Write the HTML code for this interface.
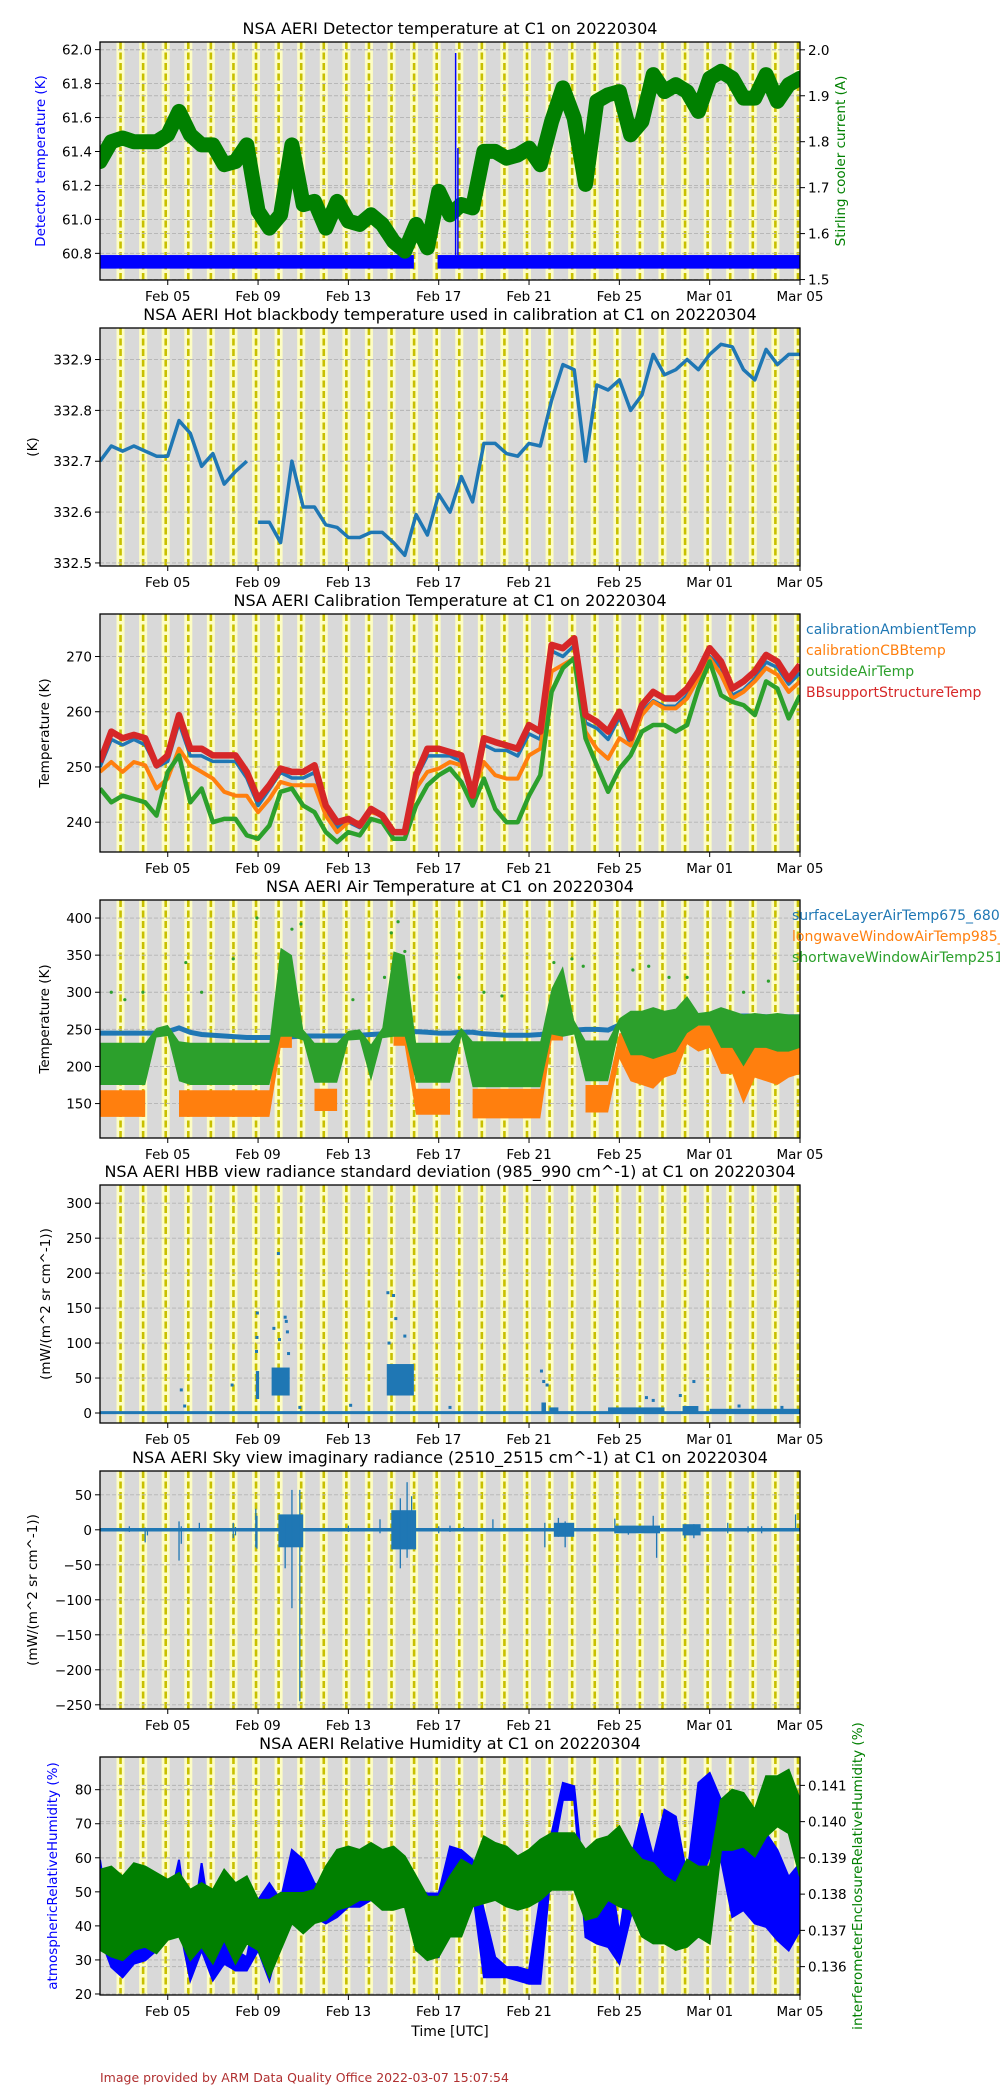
<!DOCTYPE html>
<html><head><meta charset="utf-8"><title>NSA AERI C1 20220304</title>
<style>
html,body{margin:0;padding:0;background:#fff;}
body{width:1000px;height:2100px;overflow:hidden;}
svg{display:block;font-family:"DejaVu Sans","Liberation Sans",sans-serif;}
</style></head>
<body>
<svg id="fig" width="1000" height="2100" viewBox="0 0 1000 2100" xmlns="http://www.w3.org/2000/svg">
<rect x="0" y="0" width="1000" height="2100" fill="#ffffff"/>
<text x="450" y="2036" font-size="14" text-anchor="middle" fill="#000">Time [UTC]</text>
<text x="100" y="2082" font-size="12.5" fill="#b03030">Image provided by ARM Data Quality Office 2022-03-07 15:07:54</text>
</svg>
<script>
// ---------- shared x-axis data (days since Feb 02 00:00 UTC) ----------
const xTickDays = [3,7,11,15,19,23,27,31];
const xTickLabels = ["Feb 05","Feb 09","Feb 13","Feb 17","Feb 21","Feb 25","Mar 01","Mar 05"];
const halfDays = [0,0.5,1,1.5,2,2.5,3,3.5,4,4.5,5,5.5,6,6.5,7,7.5,8,8.5,9,9.5,10,10.5,11,11.5,12,12.5,13,13.5,14,14.5,15,15.5,16,16.5,17,17.5,18,18.5,19,19.5,20,20.5,21,21.5,22,22.5,23,23.5,24,24.5,25,25.5,26,26.5,27,27.5,28,28.5,29,29.5,30,30.5,31];
const dayMarkerDays = [0.91,1.91,2.91,3.91,4.91,5.91,6.91,7.91,8.91,9.91,10.91,11.91,12.91,13.91,14.91,15.91,16.91,17.91,18.91,19.91,20.91,21.91,22.91,23.91,24.91,25.91,26.91,27.91,28.91,29.91,30.91];

// ---------- panel 1: detector temperature / cooler current ----------
const p1LeftTicks = [60.8,61.0,61.2,61.4,61.6,61.8,62.0];
const p1LeftLabels = ["60.8","61.0","61.2","61.4","61.6","61.8","62.0"];
const p1RightTicks = [1.5,1.6,1.7,1.8,1.9,2.0];
const p1RightLabels = ["1.5","1.6","1.7","1.8","1.9","2.0"];
const detSegStart = [0,14.95];
const detSegEnd = [13.9,31];
const detSegLo = [60.71,60.71];
const detSegHi = [60.79,60.79];
const detSpikeDay = [15.75,15.85];
const detSpikeVal = [61.98,61.42];
const coolerCurrent = [1.757,1.80,1.808,1.80,1.80,1.80,1.815,1.866,1.815,1.793,1.793,1.75,1.757,1.793,1.649,1.612,1.641,1.793,1.663,1.67,1.612,1.67,1.627,1.62,1.641,1.62,1.583,1.562,1.62,1.569,1.692,1.641,1.663,1.656,1.779,1.779,1.764,1.771,1.786,1.75,1.844,1.917,1.851,1.707,1.888,1.902,1.909,1.815,1.844,1.946,1.909,1.924,1.909,1.866,1.938,1.953,1.938,1.895,1.895,1.946,1.888,1.924,1.938];

// ---------- panel 2: hot blackbody ----------
const p2Ticks = [332.5,332.6,332.7,332.8,332.9];
const p2Labels = ["332.5","332.6","332.7","332.8","332.9"];
const hbbBreaks = [6.8];
const hbbTemp = [332.70,332.73,332.72,332.73,332.72,332.71,332.71,332.78,332.755,332.69,332.715,332.655,332.68,332.70,332.58,332.58,332.54,332.70,332.61,332.61,332.575,332.57,332.55,332.55,332.56,332.56,332.54,332.515,332.595,332.555,332.635,332.60,332.67,332.62,332.735,332.735,332.715,332.71,332.735,332.73,332.82,332.89,332.88,332.70,332.85,332.84,332.86,332.80,332.83,332.91,332.87,332.88,332.90,332.88,332.91,332.93,332.925,332.88,332.86,332.92,332.89,332.91,332.91];

// ---------- panel 3: calibration temperatures ----------
const p3Ticks = [240,250,260,270];
const p3Labels = ["240","250","260","270"];
const calAmbient = [250,255,254,255,254,250,251,258,252,252,251,251,251,248,243,246,249,248,248,249,242,239,240,239,242,241,238,238,248,252,252,252,251,244,254,253,253,252,256,255,271,270,272,258,257,255,259,254,260,262,261,261,263,266,270,268,263,264,266,269,268,265,267];
const calCBB = [249.1,250.9,249.1,250.9,250.3,246.1,247.9,253.3,250.3,249.1,247.9,245.5,244.8,244.8,241.8,244.2,247.3,246.7,246.7,246.7,241.2,238.2,240,240,241.8,241.2,238.2,238.2,246.1,249.1,249.7,250.9,250.3,245.5,250.9,248.5,247.9,247.9,252.1,253.3,267.3,268.5,269.7,256.4,253.3,251.5,255.2,253.9,259.4,261.8,260.6,260.6,262.4,266.1,269.7,266.7,262.4,263.6,265.5,267.9,266.7,263.6,265.5];
const outsideAir = [246.1,243.6,244.8,244.2,243.6,241.2,249.1,252.1,243.6,246.1,240,240.6,240.6,237.6,237,239.4,245.5,246.1,243,241.8,238.2,236.4,238.2,237.6,240.6,240,237,237,243,246.7,248.5,249.7,247.3,243,247.9,242.4,240,240,244.8,248.5,263.6,267.9,269.7,255.2,250.3,245.5,249.7,252.1,256.4,257.6,257.6,256.4,257.6,264.2,269.1,263,261.8,261.2,259.4,265.5,264.2,258.8,263];
const bbSupport = [250.9,256.4,255.2,255.8,255.2,250.3,252.1,259.4,253.3,253.3,252.1,252.1,252.1,249.1,244.2,246.7,249.7,249.1,249.1,250.3,243,240,240.6,239.4,242.4,241.2,238.2,238.2,248.5,253.3,253.3,252.7,252.1,244.8,255.2,254.5,253.9,253.3,257.6,256.4,272.1,271.5,273.3,259.4,258.2,256.4,260,255.2,261.2,263.6,262.4,262.4,264.2,267.3,271.5,269.1,264.2,265.5,267.3,270.3,269.1,265.9,268.5];

// ---------- panel 4: air temperatures ----------
const p4Ticks = [150,200,250,300,350,400];
const p4Labels = ["150","200","250","300","350","400"];
const surfaceAir = [245,245,245,245,245,245,247,252,246,243,242,241,240,239,239,239,240,240,241,241,241,241,241,242,243,244,245,246,247,246,245,245,246,246,244,243,242,242,242,243,245,248,249,250,250,249,256,259,260,261,262,263,264,265,266,268,268,268,268,267,267,267,267];
const swLo = [175,175,175,175,175,239,241,180,175,175,175,175,175,175,175,175,240,240,235,178,178,178,235,236,180,238,240,240,178,178,178,178,240,172,172,172,172,172,172,172,243,240,243,180,180,180,250,215,215,210,215,220,245,255,255,225,225,200,225,225,220,220,225];
const swHi = [232,232,232,232,232,252,256,234,232,232,232,232,232,232,232,232,360,350,250,232,232,232,248,250,230,252,355,350,232,232,232,232,252,234,234,234,234,234,234,234,305,335,262,235,235,235,265,275,275,280,275,278,295,272,274,280,275,270,272,270,272,270,270];
const lwLo = [132,132,132,132,132,null,null,132,132,132,132,132,132,132,132,132,225,225,null,140,140,140,null,null,135,null,228,228,135,135,135,135,null,130,130,130,130,130,130,130,235,235,null,138,138,138,210,180,175,170,185,190,230,220,225,190,190,150,185,180,175,185,190];
const lwHi = [168,168,168,168,168,null,null,168,168,168,168,168,168,168,168,168,280,275,null,170,170,170,null,null,170,null,280,270,170,170,170,170,null,170,170,170,170,170,170,170,265,270,null,175,175,175,245,245,245,245,245,245,260,255,255,250,250,235,250,250,250,250,250];
const swOutDay = [1.1,1.9,3.8,4.5,5.9,6.95,8.9,12.6,12.9,13.5,15.9,17.0,20.1,20.9,21.4,23.6,24.3,25.2,26.0,28.5,29.6,8.5,13.2,0.5,11.2,17.8];
const swOutVal = [290,300,340,300,345,400,392,320,380,355,320,300,340,345,335,330,335,320,320,300,315,385,395,300,290,295];

// ---------- panel 5: HBB radiance std dev ----------
const p5Ticks = [0,50,100,150,200,250,300];
const p5Labels = ["0","50","100","150","200","250","300"];
const hbbClusterStart = [6.9,7.6,12.7,19.55,19.9,22.5,25.8,27];
const hbbClusterEnd = [7.05,8.4,13.9,19.75,20.3,25,26.5,31];
const hbbClusterLo = [20,25,25,0,0,0,0,0];
const hbbClusterHi = [60,65,70,15,8,8,10,6];
const hbbOutDay = [6.97,6.95,6.93,7.9,8.2,8.25,7.7,8.3,7.95,8.35,12.75,13.0,13.1,12.8,13.5,3.6,3.75,5.85,8.85,11.1,19.55,19.65,19.8,24.2,24.5,26.3,25.7,15.5,28.3,30.2];
const hbbOutVal = [143,108,88,228,137,131,121,116,105,85,172,168,135,100,110,33,10,40,8,11,60,45,40,22,18,45,25,8,10,8];

// ---------- panel 6: sky imaginary radiance ----------
const p6Ticks = [-250,-200,-150,-100,-50,0,50];
const p6Labels = ["\u2212250","\u2212200","\u2212150","\u2212100","\u221250","0","50"];
const skySpikeDay = [1.3,2.0,2.1,3.5,3.6,4.4,5.9,6.0,6.9,6.95,8.2,8.5,8.85,11.0,12.4,13.3,13.6,13.8,15.0,15.5,16.1,17.4,19.7,20.3,20.6,20.9,22.8,23.4,24.5,24.65,25.9,26.3,27.8,28.7,29.3,30.8];
const skySpikeMax = [5,3,2,12,5,10,10,4,30,20,20,57,57,6,15,45,68,48,5,6,4,15,10,17,12,6,16,5,20,5,5,8,10,5,5,22];
const skySpikeMin = [-3,-18,-8,-44,-20,-2,-12,-8,-25,-27,-55,-112,-245,-3,-5,-55,-40,-25,-5,-3,-2,-1,-25,-10,-25,-5,-5,-7,-2,-40,-12,-12,-5,-4,-5,-2];
const skyClusterStart = [7.9,12.9,20.1,22.8,25.8];
const skyClusterEnd = [9.0,14.0,21.0,24.8,26.6];
const skyClusterLo = [-25,-28,-10,-5,-8];
const skyClusterHi = [22,28,10,6,8];

// ---------- panel 7: relative humidity ----------
const p7LeftTicks = [20,30,40,50,60,70,80];
const p7LeftLabels = ["20","30","40","50","60","70","80"];
const p7RightTicks = [0.136,0.137,0.138,0.139,0.140,0.141];
const p7RightLabels = ["0.136","0.137","0.138","0.139","0.140","0.141"];
const atmRhHi = [59.4,37.7,35.8,40.7,38.7,36.7,44.6,59.4,34.8,58.4,36.7,54.4,32.8,30.8,47.6,52.5,47.6,62.3,59.4,52.5,50.5,52.5,59.4,48.5,60.3,59.4,60.3,55.4,50.5,49.5,49.5,63.3,62.3,59.4,44.6,30.8,27.9,27.9,26.9,48.5,67.2,82,81,47.6,42.6,59.4,37.7,59.4,73.1,60.3,74.1,72.1,54.4,82,84.9,77,67.2,74.1,65.3,67.2,62.3,54.4,58.4];
const atmRhLo = [36.7,27.9,24.9,28.9,29.9,32.8,36.7,40.7,24,32.8,24,28.9,26.9,26.9,32.8,24,36.7,44.6,50.5,42.6,40.7,42.6,45.6,45.6,47.6,45.6,46.6,47.6,32.8,30.8,30.8,50.5,52.5,50.5,24.9,24.9,24.9,24,23,23,58.4,77,77,36.7,34.8,33.8,28.9,42.6,50.5,40.7,44.6,44.6,36.7,52.5,60.3,59.4,42.6,44.6,40.7,39.7,35.8,32.8,38.7];
const encRhHi = [0.13867,0.13876,0.13849,0.13885,0.13876,0.13858,0.1384,0.13858,0.13812,0.1383,0.13812,0.13867,0.1383,0.13849,0.13784,0.13784,0.13803,0.13803,0.13803,0.13812,0.13876,0.13922,0.13931,0.13922,0.13941,0.13922,0.13931,0.13904,0.13849,0.13793,0.13793,0.13849,0.13895,0.13876,0.13959,0.13941,0.13931,0.13904,0.13922,0.1395,0.13968,0.13968,0.13968,0.13922,0.1395,0.13959,0.13987,0.13931,0.13895,0.13885,0.13849,0.1383,0.13895,0.13876,0.13876,0.1406,0.14088,0.14079,0.14033,0.14125,0.14125,0.14143,0.1406];
const encRhLo = [0.13646,0.13628,0.13618,0.13646,0.13655,0.13637,0.13674,0.13683,0.13618,0.13655,0.13609,0.13674,0.13609,0.13664,0.13646,0.13572,0.13646,0.1372,0.13692,0.1372,0.13729,0.13757,0.13766,0.13784,0.13784,0.13757,0.13757,0.13766,0.13646,0.13618,0.13628,0.13683,0.13683,0.13766,0.13775,0.13784,0.13766,0.13757,0.13766,0.13784,0.13812,0.13812,0.13812,0.13729,0.13738,0.13784,0.13766,0.13757,0.13683,0.13664,0.13664,0.13646,0.13655,0.13683,0.13664,0.13922,0.13922,0.13931,0.13904,0.13959,0.13987,0.13968,0.13849];

// ================= drawing =================
const NS = "http://www.w3.org/2000/svg";
const svg = document.getElementById('fig');
const X0 = 100, X1 = 800, NDAYS = 31, PH = 238;
function xs(d){ return X0 + d*(X1-X0)/NDAYS; }
function mk(tag, attrs, parent){
  const e = document.createElementNS(NS, tag);
  for (const k in attrs) e.setAttribute(k, attrs[k]);
  (parent||svg).appendChild(e);
  return e;
}
function scaleY(top, lo, hi){ return v => top + PH - (v-lo)/(hi-lo)*PH; }

function makePanel(idx, top, title){
  const g = mk('g', {});
  
  
  const cp = mk('clipPath', {id:'clip'+idx}, g);
  mk('rect', {x:X0, y:top, width:X1-X0, height:PH}, cp);
  const bg = mk('rect', {x:X0, y:top, width:X1-X0, height:PH, fill:'#d9d9d9'}, g);
  
  
  const t = mk('text', {x:450, y:top-8, 'font-size':16, 'text-anchor':'middle', fill:'#000'}, g);
  t.textContent = title;
  
  
  const plot = mk('g', {'clip-path':'url(#clip'+idx+')'}, g);
  
  
  dayMarkerDays.forEach(d => {
    const x = xs(d);
    const band = mk('rect', {x:x-4, y:top, width:8, height:PH, fill:'#fdfdc4'}, plot);
    
    
  });
  dayMarkerDays.forEach(d => {
    const x = xs(d);
    const ln = mk('line', {x1:x, x2:x, y1:top, y2:top+PH, stroke:'#c8c000', 'stroke-width':2.6, 'stroke-dasharray':'7,3.5'}, plot);
    
    
  });
  xTickDays.forEach((d,i) => {
    const x = xs(d);
    const tk = mk('line', {x1:x, x2:x, y1:top+PH, y2:top+PH+5, stroke:'#000', 'stroke-width':1}, g);
    
    
    const lb = mk('text', {x:x, y:top+PH+21, 'font-size':13.5, 'text-anchor':'middle', fill:'#000'}, g);
    lb.textContent = xTickLabels[i];
    
    
  });
  return {g, plot, top};
}
function yAxis(P, ticks, labels, ys, side){
  ticks.forEach((v,i) => {
    const y = ys(v);
    const gl = mk('line', {x1:X0, x2:X1, y1:y, y2:y, stroke:'#b4b4b4', 'stroke-width':0.9, 'stroke-dasharray':'4,2'}, P.plot);
    
    
    const x = side==='left' ? X0 : X1;
    const tk = mk('line', {x1:x, x2: side==='left'? x-5 : x+5, y1:y, y2:y, stroke:'#000', 'stroke-width':1}, P.g);
    
    
    const lb = mk('text', {x: side==='left'? x-8 : x+8, y:y+5, 'font-size':13.5, 'text-anchor': side==='left'?'end':'start', fill:'#000'}, P.g);
    lb.textContent = labels[i];
    
    
  });
}
function yTitle(P, text, x, color, size){
  const cy = P.top + PH/2;
  const t = mk('text', {x:x, y:cy, 'font-size':size||13.5, 'text-anchor':'middle', fill:color, transform:'rotate(-90 '+x+' '+cy+')'}, P.g);
  t.textContent = text;
  
  
}
function frame(P){
  const f = mk('rect', {x:X0, y:P.top, width:X1-X0, height:PH, fill:'none', stroke:'#000', 'stroke-width':1.3}, P.g);
  
  
}
function linePath(ts, vals, ys, breaks){
  let d = '', pen = false;
  for (let i=0;i<ts.length;i++){
    const v = vals[i];
    if (v===null || v===undefined){ pen=false; continue; }
    if (breaks && i>0 && breaks.some(b => ts[i-1] < b && ts[i] >= b)) pen = false;
    d += (pen?'L':'M') + xs(ts[i]).toFixed(1) + ',' + ys(v).toFixed(1);
    pen = true;
  }
  return d;
}
function bandPath(ts, lo, hi, ys){
  let out = '', seg = [];
  const flush = () => {
    if (!seg.length) return;
    let d = '';
    seg.forEach((i,k) => { d += (k?'L':'M') + xs(ts[i]).toFixed(1) + ',' + ys(hi[i]).toFixed(1); });
    for (let k=seg.length-1;k>=0;k--){ const i=seg[k]; d += 'L' + xs(ts[i]).toFixed(1) + ',' + ys(lo[i]).toFixed(1); }
    out += d + 'Z'; seg = [];
  };
  for (let i=0;i<ts.length;i++){
    if (lo[i]===null || hi[i]===null) flush(); else seg.push(i);
  }
  flush();
  return out;
}

// ---------- Panel 1 ----------
{
  const P = makePanel(1, 42, 'NSA AERI Detector temperature at C1 on 20220304');
  const yl = scaleY(42, 60.643, 62.045), yr = scaleY(42, 1.499, 2.017);
  yAxis(P, p1LeftTicks, p1LeftLabels, yl, 'left');
  yAxis(P, p1RightTicks, p1RightLabels, yr, 'right');
  detSegStart.forEach((s,i) => {
    const r = mk('rect', {x:xs(s), y:yl(detSegHi[i]), width:xs(detSegEnd[i])-xs(s), height:yl(detSegLo[i])-yl(detSegHi[i]), fill:'#0000ff'}, P.plot);
    
    
  });
  const gp = mk('path', {d:linePath(halfDays, coolerCurrent, yr), fill:'none', stroke:'#008000', 'stroke-width':15, 'stroke-linejoin':'round', 'stroke-linecap':'round'}, P.plot);
  
  
  detSpikeDay.forEach((d,i) => {
    const s = mk('line', {x1:xs(d), x2:xs(d), y1:yl(detSegHi[1]), y2:yl(detSpikeVal[i]), stroke:'#0000ff', 'stroke-width':1.5}, P.plot);
    
    
  });
  yTitle(P, 'Detector temperature (K)', 45, '#0000ff');
  yTitle(P, 'Stirling cooler current (A)', 845, '#008000');
  frame(P);
}
// ---------- Panel 2 ----------
{
  const P = makePanel(2, 328, 'NSA AERI Hot blackbody temperature used in calibration at C1 on 20220304');
  const y = scaleY(328, 332.494, 332.962);
  yAxis(P, p2Ticks, p2Labels, y, 'left');
  const l = mk('path', {d:linePath(halfDays, hbbTemp, y, hbbBreaks), fill:'none', stroke:'#1f77b4', 'stroke-width':3.5, 'stroke-linejoin':'round'}, P.plot);
  
  
  yTitle(P, '(K)', 37, '#000');
  frame(P);
}
// ---------- Panel 3 ----------
{
  const P = makePanel(3, 614, 'NSA AERI Calibration Temperature at C1 on 20220304');
  const y = scaleY(614, 234.6, 277.7);
  yAxis(P, p3Ticks, p3Labels, y, 'left');
  const series = [[calAmbient,'#1f77b4',3.5,'calibration-ambient-temp-line'],[calCBB,'#ff7f0e',4,'calibration-cbb-temp-line'],[outsideAir,'#2ca02c',4.5,'outside-air-temp-line'],[bbSupport,'#d62728',6.5,'bb-support-structure-temp-line']];
  series.forEach(s => {
    const l = mk('path', {d:linePath(halfDays, s[0], y), fill:'none', stroke:s[1], 'stroke-width':s[2], 'stroke-linejoin':'round'}, P.plot);
    
    
  });
  yTitle(P, 'Temperature (K)', 49, '#000');
  frame(P);
  const leg = [['calibrationAmbientTemp','#1f77b4'],['calibrationCBBtemp','#ff7f0e'],['outsideAirTemp','#2ca02c'],['BBsupportStructureTemp','#d62728']];
  leg.forEach((e,i) => {
    const t = mk('text', {x:806, y:634+i*21, 'font-size':14, fill:e[1]}, P.g);
    t.textContent = e[0];
    
    
  });
}
// ---------- Panel 4 ----------
{
  const P = makePanel(4, 900, 'NSA AERI Air Temperature at C1 on 20220304');
  const y = scaleY(900, 103.6, 424.3);
  yAxis(P, p4Ticks, p4Labels, y, 'left');
  const sl = mk('path', {d:linePath(halfDays, surfaceAir, y), fill:'none', stroke:'#1f77b4', 'stroke-width':5}, P.plot);
  
  
  const ob = mk('path', {d:bandPath(halfDays, lwLo, lwHi, y), fill:'#ff7f0e'}, P.plot);
  
  
  const gb = mk('path', {d:bandPath(halfDays, swLo, swHi, y), fill:'#2ca02c'}, P.plot);
  
  
  swOutDay.forEach((d,i) => {
    const c = mk('circle', {cx:xs(d), cy:y(swOutVal[i]), r:1.6, fill:'#2ca02c'}, P.plot);
    
    
  });
  yTitle(P, 'Temperature (K)', 49, '#000');
  frame(P);
  const leg = [['surfaceLayerAirTemp675_680','#1f77b4'],['longwaveWindowAirTemp985_990','#ff7f0e'],['shortwaveWindowAirTemp2510_2515','#2ca02c']];
  leg.forEach((e,i) => {
    const t = mk('text', {x:792, y:920+i*21, 'font-size':14, fill:e[1]}, P.g);
    t.textContent = e[0];
    
    
  });
}
// ---------- Panel 5 ----------
{
  const P = makePanel(5, 1185, 'NSA AERI HBB view radiance standard deviation (985_990 cm^-1) at C1 on 20220304');
  const y = scaleY(1185, -14.3, 326);
  yAxis(P, p5Ticks, p5Labels, y, 'left');
  const base = mk('line', {x1:X0, x2:X1, y1:y(0.5), y2:y(0.5), stroke:'#1f77b4', 'stroke-width':3}, P.plot);
  
  
  hbbClusterStart.forEach((s,i) => {
    const r = mk('rect', {x:xs(s), y:y(hbbClusterHi[i]), width:Math.max(2,xs(hbbClusterEnd[i])-xs(s)), height:y(hbbClusterLo[i])-y(hbbClusterHi[i]), fill:'#1f77b4'}, P.plot);
    
    
  });
  hbbOutDay.forEach((d,i) => {
    const r = mk('rect', {x:xs(d)-1.5, y:y(hbbOutVal[i])-1.5, width:3, height:3, fill:'#1f77b4'}, P.plot);
    
    
  });
  yTitle(P, '(mW/(m^2 sr cm^-1))', 50, '#000');
  frame(P);
}
// ---------- Panel 6 ----------
{
  const P = makePanel(6, 1471, 'NSA AERI Sky view imaginary radiance (2510_2515 cm^-1) at C1 on 20220304');
  const y = scaleY(1471, -256, 84);
  yAxis(P, p6Ticks, p6Labels, y, 'left');
  const base = mk('line', {x1:X0, x2:X1, y1:y(0), y2:y(0), stroke:'#1f77b4', 'stroke-width':3.5}, P.plot);
  
  
  skyClusterStart.forEach((s,i) => {
    const r = mk('rect', {x:xs(s), y:y(skyClusterHi[i]), width:xs(skyClusterEnd[i])-xs(s), height:y(skyClusterLo[i])-y(skyClusterHi[i]), fill:'#1f77b4'}, P.plot);
    
    
  });
  skySpikeDay.forEach((d,i) => {
    const l = mk('line', {x1:xs(d), x2:xs(d), y1:y(skySpikeMax[i]), y2:y(skySpikeMin[i]), stroke:'#1f77b4', 'stroke-width':1.3}, P.plot);
    
    
  });
  yTitle(P, '(mW/(m^2 sr cm^-1))', 37, '#000');
  frame(P);
}
// ---------- Panel 7 ----------
{
  const P = makePanel(7, 1757, 'NSA AERI Relative Humidity at C1 on 20220304');
  const yl = scaleY(1757, 19.7, 89.6), yr = scaleY(1757, 0.135217, 0.141783);
  yAxis(P, p7LeftTicks, p7LeftLabels, yl, 'left');
  yAxis(P, p7RightTicks, p7RightLabels, yr, 'right');
  const b = mk('path', {d:bandPath(halfDays, atmRhLo, atmRhHi, yl), fill:'#0000ff', stroke:'#0000ff', 'stroke-width':2}, P.plot);
  
  
  const gb = mk('path', {d:bandPath(halfDays, encRhLo, encRhHi, yr), fill:'#008000', stroke:'#008000', 'stroke-width':2}, P.plot);
  
  
  yTitle(P, 'atmosphericRelativeHumidity (%)', 57, '#0000ff');
  yTitle(P, 'interferometerEnclosureRelativeHumidity (%)', 862, '#008000');
  frame(P);
}
</script>
</body></html>
